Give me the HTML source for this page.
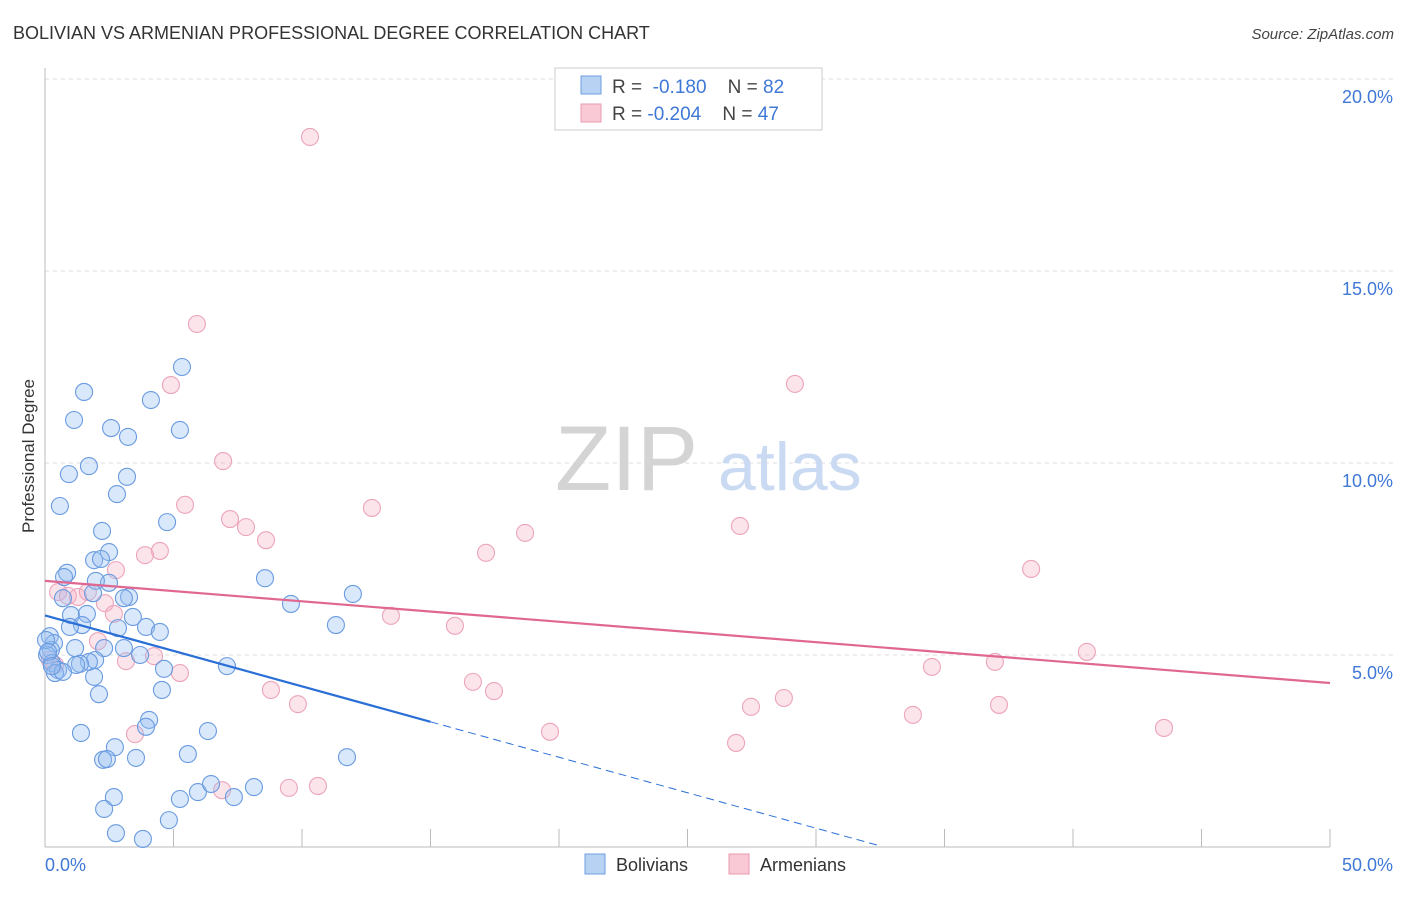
<!DOCTYPE html>
<html><head><meta charset="utf-8"><style>
body{margin:0;background:#fff;font-family:"Liberation Sans",sans-serif;}
svg text{font-family:"Liberation Sans",sans-serif;}
</style></head><body>
<svg id="chart" width="1406" height="892" viewBox="0 0 1406 892" xmlns="http://www.w3.org/2000/svg">
<text x="13" y="39" font-size="18" fill="#333">BOLIVIAN VS ARMENIAN PROFESSIONAL DEGREE CORRELATION CHART</text>
<text x="1394" y="39" font-size="15" fill="#444" text-anchor="end" font-style="italic">Source: ZipAtlas.com</text>
<g id="grid"></g>
<g>
<text x="555" y="490" font-size="92" fill="#d4d4d4" font-family="Liberation Serif,serif">ZIP</text>
<text x="718" y="490" font-size="68" fill="#c9daf2">atlas</text>
</g>
<g id="ticks"></g>
<text transform="translate(34,456) rotate(-90)" font-size="17" fill="#333" text-anchor="middle">Professional Degree</text>
<g id="pts"></g>
<g id="lines"></g>
<g>
<rect x="555" y="68" width="267" height="62" fill="#fff" stroke="#ccc"/>
<rect x="581" y="76" width="20" height="18" fill="#b7d2f3" stroke="#6f9ee0"/>
<rect x="581" y="104" width="20" height="18" fill="#f9c9d6" stroke="#e99ab1"/>
<text x="612" y="93" font-size="19" fill="#444" xml:space="preserve">R =  <tspan fill="#3f78d6">-0.180</tspan>    N = <tspan fill="#3f78d6">82</tspan></text>
<text x="612" y="120" font-size="19" fill="#444" xml:space="preserve">R = <tspan fill="#3f78d6">-0.204</tspan>    N = <tspan fill="#3f78d6">47</tspan></text>
</g>
<g>
<rect x="585" y="854" width="20" height="20" fill="#b7d2f3" stroke="#6f9ee0"/>
<text x="616" y="871" font-size="18" fill="#333">Bolivians</text>
<rect x="729" y="854" width="20" height="20" fill="#f9c9d6" stroke="#e99ab1"/>
<text x="760" y="871" font-size="18" fill="#333">Armenians</text>
</g>
</svg>
<script>
const yTicks=[5,10,15,20];
const xTickLabels=["0.0%","50.0%"];
const bolX=[5.33,1.52,4.12,1.13,2.57,3.23,5.25,1.71,0.93,3.19,2.80,0.58,4.75,2.22,2.49,1.91,2.18,0.86,0.74,8.56,2.49,1.98,0.70,1.87,3.27,3.07,9.57,11.98,1.01,1.63,3.42,11.32,1.44,0.97,2.84,3.93,4.47,0.19,0.35,1.17,2.30,3.07,3.70,0.23,0.08,0.27,0.51,1.95,1.71,1.36,1.21,0.39,0.70,4.63,7.08,1.91,4.55,2.10,1.40,4.05,3.93,2.72,6.34,5.56,11.75,2.26,2.41,3.54,2.68,2.30,5.25,5.95,6.46,7.35,8.13,2.76,4.82,3.81,0.04,0.12,0.27];
const bolY=[12.5,11.85,11.64,11.12,10.91,10.68,10.86,9.92,9.71,9.64,9.19,8.88,8.46,8.23,7.68,7.47,7.5,7.14,7.03,7.0,6.88,6.93,6.48,6.61,6.51,6.48,6.33,6.59,6.04,6.07,5.99,5.78,5.78,5.73,5.70,5.73,5.60,5.49,5.31,5.18,5.18,5.18,5.0,5.13,5.0,4.79,4.61,4.87,4.82,4.77,4.74,4.53,4.56,4.64,4.71,4.43,4.09,3.98,2.97,3.31,3.13,2.60,3.02,2.42,2.34,2.27,2.29,2.32,1.30,0.99,1.25,1.43,1.64,1.30,1.56,0.36,0.70,0.21,5.39,5.08,4.71];
const armX=[10.31,5.91,29.18,4.90,6.93,5.45,12.72,7.20,7.82,8.60,18.68,27.04,4.47,3.89,17.16,2.76,38.37,0.51,0.89,1.28,1.67,2.33,2.68,13.46,15.95,40.54,2.06,3.15,4.24,0.19,0.39,34.51,36.96,5.25,8.79,9.84,16.65,17.47,27.47,28.75,33.77,37.12,43.54,19.65,26.89,3.50,6.89,9.49,10.62];
const armY=[18.49,13.62,12.06,12.03,10.05,8.91,8.83,8.54,8.33,7.99,8.18,8.36,7.71,7.60,7.66,7.21,7.24,6.64,6.54,6.51,6.64,6.35,6.07,6.02,5.76,5.08,5.36,4.84,4.97,4.87,4.74,4.69,4.82,4.53,4.09,3.72,4.30,4.06,3.65,3.88,3.44,3.70,3.10,3.0,2.71,2.94,1.48,1.54,1.59];
const bolTrend=[6.03,3.26];const bolTrendX=[0,15,32.5];
const armTrend=[6.93,4.27];const armTrendX=[0,50];
const NS="http://www.w3.org/2000/svg";
const X0=45,X1=1330,Y0=847,Y20=79;
const sx=v=>X0+(X1-X0)*v/50;
const sy=v=>Y0-(Y0-Y20)*v/20;
function mk(tag,attrs,parent){const e=document.createElementNS(NS,tag);for(const k in attrs)e.setAttribute(k,attrs[k]);parent.appendChild(e);return e;}
const grid=document.getElementById('grid');
yTicks.forEach(t=>{
  const l=mk('line',{x1:X0,x2:1393,y1:sy(t),y2:sy(t),stroke:'#ddd','stroke-dasharray':'4,4'},grid);
  
  
  const tx=mk('text',{x:1393,y:sy(t)+24,'font-size':18,fill:'#3f78d6','text-anchor':'end'},grid);
  tx.textContent=t.toFixed(1)+'%';
  
  
});
const ticks=document.getElementById('ticks');
const ax=mk('line',{x1:X0,x2:X0,y1:68,y2:Y0,stroke:'#bbb'},ticks);


const bx=mk('line',{x1:X0,x2:X1,y1:Y0,y2:Y0,stroke:'#bbb'},ticks);


for(let i=0;i<=10;i++){
  const t=mk('line',{x1:sx(i*5),x2:sx(i*5),y1:829,y2:Y0,stroke:'#bbb'},ticks);
  
  
}
[[0,'start',45],[50,'end',1393]].forEach((d,i)=>{
  const t=mk('text',{x:d[2],y:871,'font-size':18,fill:'#3f78d6','text-anchor':d[1]},ticks);
  t.textContent=xTickLabels[i];
  
  
});
const pts=document.getElementById('pts');
armX.forEach((x,i)=>{
  const c=mk('circle',{cx:sx(x),cy:sy(armY[i]),r:8.5,fill:'rgba(245,170,192,0.32)',stroke:'#eca4ba','stroke-width':1.1},pts);
  
  
});
bolX.forEach((x,i)=>{
  const c=mk('circle',{cx:sx(x),cy:sy(bolY[i]),r:8.5,fill:'rgba(150,190,240,0.36)',stroke:'#6a9be0','stroke-width':1.1},pts);
  
  
});
const lines=document.getElementById('lines');
const bf=x=>bolTrend[0]+(bolTrend[1]-bolTrend[0])*x/bolTrendX[1];
const l1=mk('line',{x1:sx(0),y1:sy(bf(0)),x2:sx(bolTrendX[1]),y2:sy(bf(bolTrendX[1])),stroke:'#2a6fd6','stroke-width':2.2},lines);


const l2=mk('line',{x1:sx(bolTrendX[1]),y1:sy(bf(bolTrendX[1])),x2:sx(bolTrendX[2]),y2:sy(bf(bolTrendX[2])),stroke:'#2a6fd6','stroke-width':1,'stroke-dasharray':'8,5'},lines);


const l3=mk('line',{x1:sx(armTrendX[0]),y1:sy(armTrend[0]),x2:sx(armTrendX[1]),y2:sy(armTrend[1]),stroke:'#e06890','stroke-width':2.2},lines);


</script>
</body></html>
